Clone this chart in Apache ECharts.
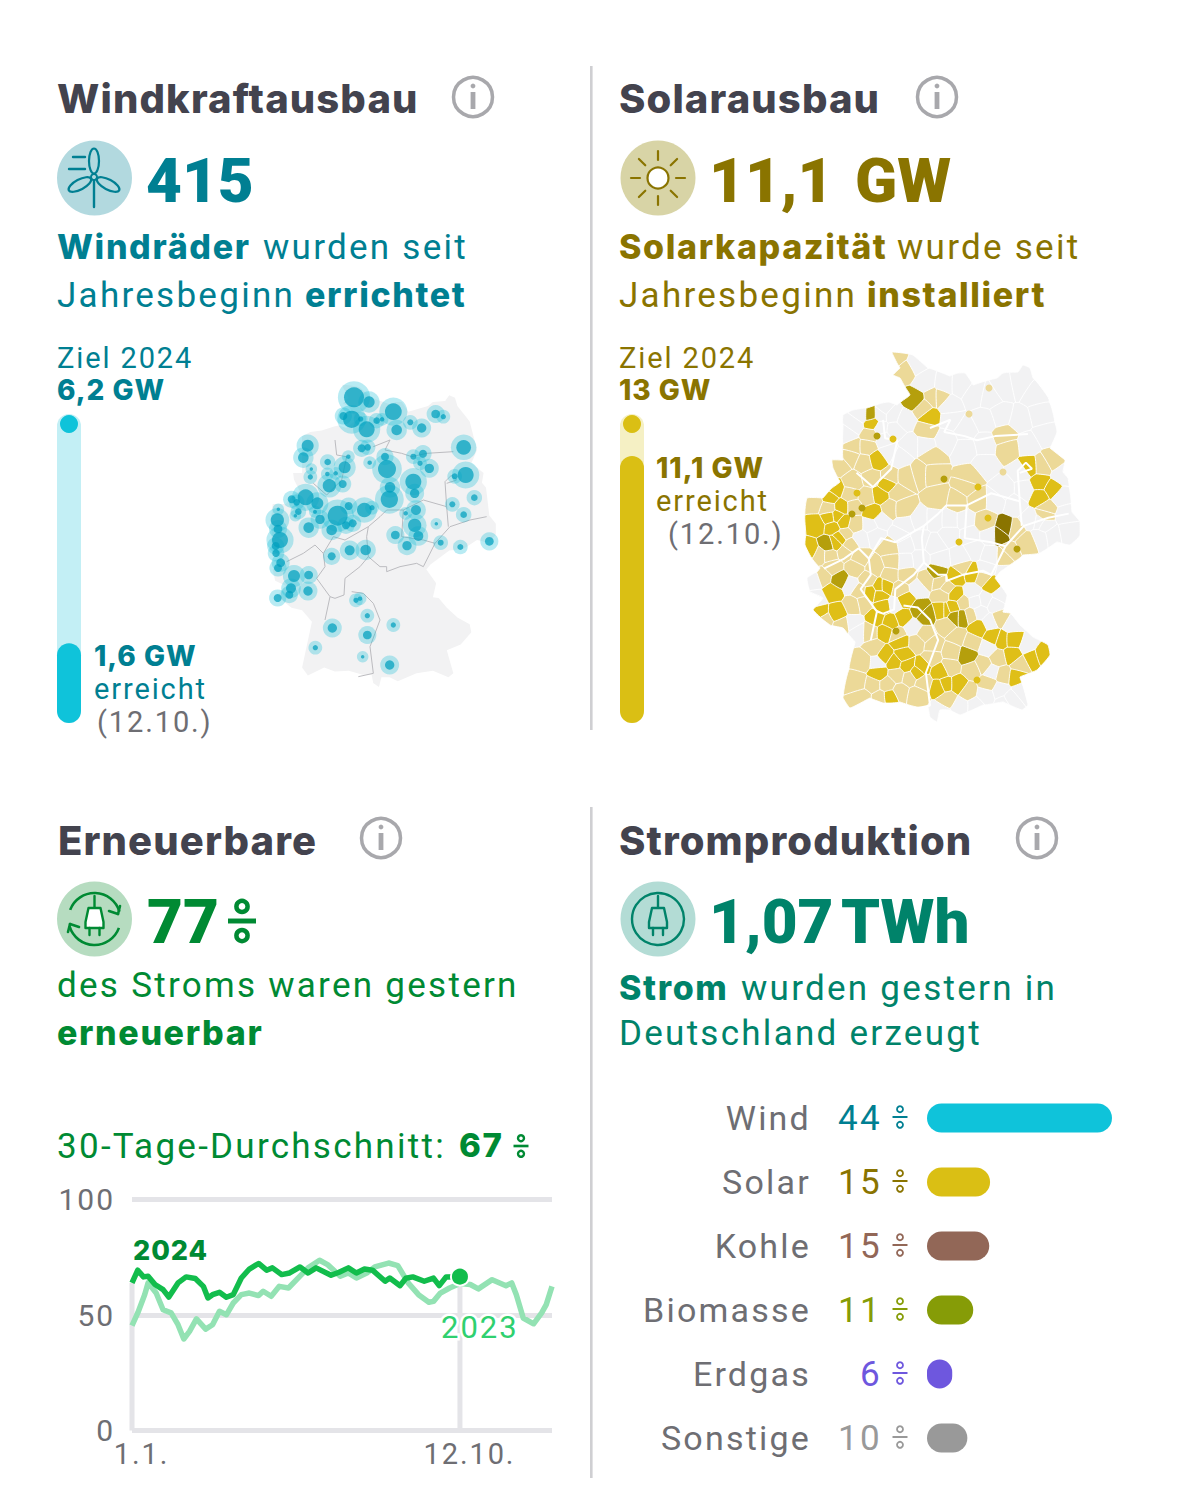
<!DOCTYPE html>
<html lang="de"><head><meta charset="utf-8">
<script src="https://cdn.jsdelivr.net/npm/echarts@6/dist/echarts.min.js"></script>
<style>html,body{margin:0;background:#fff}#c{width:1179px;height:1511px}#c text{letter-spacing:.065em}</style>
</head><body><div id="c"></div>
<script>
// ---------- data ----------
const windGoalGW = 6.2, windReachedGW = 1.6;
const solarGoalGW = 13, solarReachedGW = 11.23;

const mixNames = ['Wind','Solar','Kohle','Biomasse','Erdgas','Sonstige'];
const mixShares = [44,15,15,11,6,10];
const mixBarValues = [44,15,14.8,11,6,9.6];
const mixColors = ['#0fc3da','#dabf14','#926757','#869c07','#6e57de','#999999'];
const mixTextColors = ['#007f92','#8a7400','#926757','#869c07','#6e57de','#999999'];

const days2024 = [0,5,10,14,20,27,32,40,47,55,62,66,70,76,82,88,95,102,110,117,122,130,137,146,153,160,173,180,188,195,202,209,220,224,233,238,244,254,262,267,273,285];
const share2024 = [63.9,69.4,66.5,66.8,63.2,61,57.8,63.9,66.5,65.8,62.4,57.4,58.8,59.8,57.7,58.8,66,69.9,72.3,69.4,70.4,67.5,68.2,70.8,68.2,70.4,67.2,68.5,70.4,68.2,69.9,69.4,64.6,66,62.7,65.9,66.5,64.6,66,62.7,66.5,66.6];
const days2023 = [0,5,11,14,21,27,34,40,45,50,56,64,70,76,82,88,95,102,110,114,121,128,136,146,153,163,170,181,188,195,204,211,223,231,240,249,258,262,268,276,285,294,301,313,325,330,334,340,349,356,360,365];
const share2023 = [45.4,50.9,58.8,63.9,59.5,52.3,50.9,45.8,39.6,42.9,48.3,43.9,45.8,51.6,50.1,55.2,58.8,59.5,58.4,60.3,58.1,62.4,61.7,66.8,70.4,73.7,71.8,66.8,68.2,66,68.2,70.8,72.5,71.4,63.9,58.8,55.5,55.9,59.5,61.7,63.6,63.2,61.3,65.3,62.7,63.9,58.8,48.7,46.2,50.9,54.5,62.4];

// wind parks: map x, map y, strength
const windParks = [[942,172,100],[987,186,32],[1060,215,70],[1187,222,19],[1210,230,7],[935,238,75],[910,228,16],[962,237,7],[980,268,64],[1010,242,11],[1026,238,5],[1070,270,28],[1111,247,9],[1145,264,22],[803,317,36],[790,353,28],[965,325,16],[983,322,11],[1035,350,16],[1041,387,81],[1120,350,9],[1149,341,16],[1140,370,7],[1168,385,22],[1271,322,54],[1277,405,64],[1244,409,9],[863,366,11],[925,350,5],[914,382,36],[989,368,5],[814,387,3],[811,411,7],[862,402,5],[887,400,5],[868,437,44],[908,432,16],[1120,425,64],[1050,442,28],[1124,460,22],[1048,478,75],[797,472,64],[755,478,16],[770,487,11],[832,490,36],[775,515,11],[766,527,3],[825,515,4],[840,538,22],[715,508,3],[712,540,44],[714,567,19],[806,563,28],[893,527,100],[926,498,16],[973,510,54],[996,503,7],[875,570,28],[918,556,16],[938,550,16],[1128,510,25],[1097,520,5],[1124,556,44],[1135,588,25],[1066,585,19],[1101,617,22],[1237,493,9],[1303,473,11],[1271,524,11],[1189,551,3],[1202,608,9],[1261,621,9],[1348,604,19],[720,600,64],[707,618,16],[708,640,14],[875,649,16],[929,631,25],[977,630,28],[722,668,19],[714,684,16],[762,708,36],[806,705,19],[753,745,25],[748,764,16],[713,774,16],[804,753,22],[948,781,7],[960,776,5],[877,864,22],[982,885,19],[982,827,7],[1060,855,7],[826,923,7],[968,950,3],[1049,975,22]];

// state borders, same map frame as the wind parks
const stateBorders = [
 [[740,665],[790,640],[825,615],[850,640],[855,680],[830,715],[870,770],[855,840]],
 [[870,770],[885,775],[912,765],[915,715],[960,680],[985,650],[1020,680],[1040,680],[1040,695],[1080,680],[1130,670],[1150,680],[1185,610],[1230,560],[1290,540],[1340,530]],
 [[935,755],[970,760],[1000,790],[1020,840],[1005,880],[990,920],[1000,1000],[955,1010]],
 [[850,640],[880,590],[915,600],[985,560],[1020,530],[1040,510],[1090,510],[1085,590],[1150,600],[1185,610]],
 [[985,650],[980,590],[985,560]],
 [[1000,320],[1050,300],[1035,330],[1085,340],[1115,350],[1160,340],[1240,335]],
 [[1220,430],[1250,420],[1235,405],[1215,425],[1220,500],[1225,560]],
 [[820,430],[860,465],[905,420],[920,350],[890,345],[885,300]],
 [[1090,510],[1150,480],[1220,500]]
];

// Germany outline in the solar map frame
const germanyOutline = [[892,352],[903,353],[913,355],[928,368],[950,376],[958,373],[965,373],[973,385],[997,378],[1003,373],[1018,372],[1023,365],[1030,368],[1033,378],[1048,397],[1057,432],[1050,448],[1065,460],[1063,472],[1068,478],[1072,512],[1080,522],[1080,535],[1078,538],[1070,545],[1057,542],[1040,553],[1023,555],[1000,572],[995,578],[1007,595],[1003,612],[1010,613],[1020,625],[1033,637],[1048,645],[1050,655],[1037,670],[1020,677],[1028,705],[1022,710],[1003,702],[983,705],[960,715],[950,710],[940,710],[937,722],[930,717],[928,707],[917,707],[900,702],[883,703],[870,698],[850,708],[843,698],[855,642],[843,628],[830,625],[820,617],[813,610],[823,598],[810,592],[807,578],[817,572],[820,568],[813,560],[805,545],[806,535],[805,515],[807,498],[823,498],[832,488],[840,482],[833,468],[832,460],[843,460],[843,425],[843,415],[853,410],[867,408],[882,403],[888,402],[897,405],[910,395],[900,378],[893,375],[900,368],[893,355]];

// solar build-out by district, map centres grouped by class
const distGray = [[915,365],[925,382],[945,385],[960,385],[975,395],[990,398],[1005,388],[1020,385],[1035,395],[1040,415],[1020,420],[1000,415],[985,420],[965,430],[950,420],[948,405],[1045,435],[1028,445],[985,445],[965,450],[945,440],[925,445],[855,425],[848,435],[862,415],[880,415],[885,408],[880,428],[884,440],[893,415],[895,430],[905,420],[910,445],[900,458],[888,452],[985,465],[1022,472],[1025,490],[1003,490],[1062,475],[1060,497],[1065,515],[1040,522],[1068,532],[1052,535],[1030,520],[1015,505],[995,500],[905,525],[920,520],[935,520],[950,520],[965,520],[920,540],[905,545],[875,535],[880,520],[935,545],[950,535],[970,535],[975,550],[960,558],[940,560],[920,560],[905,562],[990,555],[1000,595],[985,600],[980,612],[995,605],[1012,625],[1028,645],[1022,690],[1000,690],[1005,703],[985,695],[975,705],[960,705],[940,712],[1010,700],[990,622],[972,592],[975,602],[815,580],[817,600],[850,585],[853,623],[858,632],[877,663],[895,605],[918,588],[913,627],[988,648],[992,672],[1040,537],[1045,525],[870,525],[860,538],[990,535],[1005,575],[985,570],[900,535]];
const distTan = [[897,358],[906,370],[933,398],[923,408],[927,430],[940,398],[870,435],[853,447],[850,457],[868,447],[865,463],[840,465],[853,482],[872,478],[890,477],[850,495],[867,497],[897,493],[890,508],[903,508],[907,477],[815,503],[828,508],[853,507],[855,525],[845,534],[932,457],[920,473],[933,473],[938,498],[1005,437],[1008,448],[1052,460],[1042,466],[1047,508],[1045,515],[970,478],[967,487],[958,502],[977,500],[985,522],[1015,530],[1027,542],[1008,552],[820,555],[830,555],[845,552],[850,545],[890,548],[892,562],[833,567],[860,558],[855,568],[823,577],[875,568],[868,580],[860,592],[863,603],[853,605],[825,620],[842,625],[870,632],[890,575],[907,575],[900,590],[927,580],[940,582],[897,635],[925,635],[917,643],[933,645],[943,595],[875,648],[863,662],[858,682],[873,685],[897,675],[910,678],[887,685],[923,682],[900,692],[917,695],[863,698],[880,698],[932,658],[983,577],[963,568],[947,588],[963,603],[970,615],[1000,618],[947,625],[958,637],[972,642],[952,652],[998,658],[1020,665],[1003,675],[983,665],[972,670],[950,667],[988,683],[968,692],[948,698],[1005,555]];
const distYellow = [[872,423],[877,460],[835,490],[830,497],[880,495],[887,484],[842,507],[873,513],[817,525],[830,518],[837,517],[843,522],[833,527],[930,417],[1029,467],[1040,483],[1052,490],[1040,497],[810,550],[840,538],[835,543],[833,592],[820,612],[837,613],[880,587],[870,593],[885,587],[880,595],[905,600],[883,607],[877,618],[903,617],[890,622],[885,632],[943,610],[900,642],[885,655],[895,662],[907,665],[903,655],[922,667],[917,673],[878,673],[890,697],[940,672],[940,687],[956,577],[972,573],[992,585],[955,595],[945,610],[953,607],[978,628],[993,637],[1002,640],[1013,640],[1012,655],[1033,658],[1042,655],[1017,677],[958,685],[945,685]];
const distOlive = [[915,400],[870,415],[828,545],[840,580],[920,610],[925,615],[937,572],[955,617],[962,617],[967,655]];
const distDark = [[1005,528],[1000,535]];
// single small cities, map x, map y
const cityTan = [[989,388],[969,414],[1003,472],[952,473]];
const cityYellow = [[857,493],[893,439],[978,487],[988,518],[959,542],[977,680]];
const cityOlive = [[877,436],[944,479],[862,508],[852,514],[1017,549],[896,631]];

// ---------- helpers ----------
const C = {title:'#43434e',gray:'#6e6e73',info:'#a8a8ac',wind:'#007f92',solar:'#8a7400',green:'#008a33',strom:'#00836a'};
const FF = 'Roboto', FB = 'Inter';
function T(text,x,y,size,fill,weight,align){const f=weight===800?FB:FF;return {type:'text',x,y:weight===800?y-1:y,z:50,style:{text,fill,font:`${weight||400} ${size}px ${f}`,textAlign:align||'left',textVerticalAlign:'middle'}};}
function pct(x,y,w,color,lw){const r=w*0.2;const gap=w*0.52;return {type:'group',z:50,children:[
 {type:'circle',shape:{cx:x,cy:y-gap,r},style:{fill:'none',stroke:color,lineWidth:lw}},
 {type:'circle',shape:{cx:x,cy:y+gap,r},style:{fill:'none',stroke:color,lineWidth:lw}},
 {type:'rect',shape:{x:x-w/2,y:y-lw*0.55,width:w,height:lw*1.1},style:{fill:color}}]};}
function info(x,y){return {type:'group',z:50,children:[
 {type:'circle',shape:{cx:x,cy:y,r:19.5},style:{fill:'none',stroke:C.info,lineWidth:3.5}},
 {type:'circle',shape:{cx:x,cy:y-11,r:2.4},style:{fill:C.info}},
 {type:'rect',shape:{x:x-2.4,y:y-5,width:4.8,height:17},style:{fill:C.info}}]};}
const L=(x1,y1,x2,y2,c,w)=>({type:'line',shape:{x1,y1,x2,y2},style:{stroke:c,lineWidth:w||2.4,lineCap:'round'},z:50});
function plug(cx,cy,c,fill){return [
 L(cx,cy-23,cx,cy-11,c),
 {type:'polygon',z:50,shape:{points:[[cx-6,cy-11],[cx+6,cy-11],[cx+9,cy+3],[cx+9,cy+9],[cx-9,cy+9],[cx-9,cy+3]]},style:{fill,stroke:c,lineWidth:2.4,lineJoin:'round'}},
 L(cx-5,cy+9,cx-5,cy+16,c),L(cx+5,cy+9,cx+5,cy+16,c)];}
function blade(hx,hy,deg,c){return {type:'group',x:hx,y:hy,rotation:deg*Math.PI/180,z:50,children:[
 {type:'ellipse',z:50,shape:{cx:0,cy:-16,rx:5,ry:12.5},style:{fill:'none',stroke:c,lineWidth:2.2}}]};}

const gfx = [];
gfx.push({type:'rect',shape:{x:590,y:66,width:2.6,height:664},style:{fill:'#cfcfd2'}},{type:'rect',shape:{x:590,y:807,width:2.6,height:671},style:{fill:'#cfcfd2'}});
gfx.push(T('Windkraftausbau',57,99,40,C.title,800),info(473,97));
gfx.push(T('Solarausbau',619,99,40,C.title,800),info(937,97));
gfx.push(T('Erneuerbare',58,841,40,C.title,800),info(381,838));
gfx.push(T('Stromproduktion',619,841,40,C.title,800),info(1037,838));
gfx.push({type:'circle',shape:{cx:94.5,cy:178,r:37.5},style:{fill:'#b2d9df'}},{type:'circle',shape:{cx:658,cy:178,r:37.5},style:{fill:'#d8d4a6'}},{type:'circle',shape:{cx:94.5,cy:919,r:37.5},style:{fill:'#b6dcc0'}},{type:'circle',shape:{cx:658,cy:919,r:37.5},style:{fill:'#b3dcd5'}});
gfx.push(L(94,181,94,207,C.wind),L(73,157,85,157,C.wind),L(69,169,85,169,C.wind),blade(94,177,0,C.wind),blade(94,177,118,C.wind),blade(94,177,242,C.wind),{type:'circle',z:51,shape:{cx:94,cy:177,r:3},style:{fill:'#b2d9df',stroke:C.wind,lineWidth:2}});
gfx.push({type:'circle',z:50,shape:{cx:658,cy:178,r:10.5},style:{fill:'#fff',stroke:C.solar,lineWidth:2.2}});
[0,45,90,135,180,225,270,315].forEach(a=>{const s=Math.sin(a*Math.PI/180),k=Math.cos(a*Math.PI/180);gfx.push(L(658+k*18,178+s*18,658+k*27,178+s*27,C.solar,2.2));});
gfx.push(...plug(94.5,919,C.green,'#fff'));
gfx.push({type:'arc',z:50,shape:{cx:94.5,cy:919,r:26,startAngle:3.5,endAngle:6.0,clockwise:true},style:{stroke:C.green,fill:'none',lineWidth:2.6}},{type:'arc',z:50,shape:{cx:94.5,cy:919,r:26,startAngle:0.35,endAngle:2.85,clockwise:true},style:{stroke:C.green,fill:'none',lineWidth:2.6}});
gfx.push(L(120,906,118,914,C.green,2.6),L(118,914,109,911,C.green,2.6),L(68,932,70,924,C.green,2.6),L(70,924,79,927,C.green,2.6));
gfx.push(...plug(658,919,C.strom,'#b3dcd5'));
gfx.push({type:'circle',z:49,shape:{cx:658,cy:919,r:26},style:{fill:'none',stroke:C.strom,lineWidth:2.4}});
gfx.push(T('415',146,180,62,C.wind,900),T('11,1',709,180,62,C.solar,900),T('GW',855,180,62,C.solar,900));
gfx.push(T('77',147,921,62,C.green,900),pct(242,921,28,C.green,4.5));
gfx.push(T('1,07',709,921,62,C.strom,900),T('TWh',841,921,62,C.strom,900));
gfx.push(T('Windräder',57,247,34,C.wind,800),T('wurden seit',263,247,35,C.wind),T('Jahresbeginn',57,295,35,C.wind),T('errichtet',305,295,34,C.wind,800));
gfx.push(T('Solarkapazität',619,247,34,C.solar,800),T('wurde seit',897,247,35,C.solar),T('Jahresbeginn',619,295,35,C.solar),T('installiert',867,295,34,C.solar,800));
gfx.push(T('des Stroms waren gestern',57,985,35,C.green),T('erneuerbar',57,1033,34,C.green,800));
gfx.push(T('Strom',619,988,34,C.strom,800),T('wurden gestern in',741,988,35,C.strom),T('Deutschland erzeugt',619,1033,35,C.strom));
gfx.push(T('Ziel 2024',57,358,29,C.wind),T('6,2 GW',57,391,28,C.wind,800),T('1,6 GW',94,657,28,C.wind,800),T('erreicht',94,689,29,C.wind),T('(12.10.)',97,722,29,C.gray));
gfx.push(T('Ziel 2024',619,358,29,C.solar),T('13 GW',619,391,28,C.solar,800),T('11,1 GW',656,469,28,C.solar,800),T('erreicht',656,501,29,C.solar),T('(12.10.)',668,534,29,C.gray));
gfx.push(T('30-Tage-Durchschnitt:',57,1146,35,C.green),T('67',459,1146,33,C.green,800),pct(521,1146,15,C.green,2.4));
gfx.push(T('2024',133,1251,27,C.green,800));
gfx.push({type:'text',x:441,y:1327,z:50,style:{text:'2023',fill:'#2fd06f',font:`400 31px ${FF}`,textVerticalAlign:'middle',stroke:'#fff',lineWidth:5,paintOrder:'stroke'}});
const rowY=[1118,1182,1246,1310,1374,1438];
rowY.forEach((y,i)=>gfx.push(pct(900,y-1,15,mixTextColors[i],1.8)));

// ---------- solar map geometry ----------
const allDistricts=[].concat(distGray.map(p=>[p[0],p[1],0]),distTan.map(p=>[p[0],p[1],1]),distYellow.map(p=>[p[0],p[1],2]),distOlive.map(p=>[p[0],p[1],3]),distDark.map(p=>[p[0],p[1],4]));
const classColors=['#f2f2f3','#ecd998','#dfbf17','#b59f0c','#8a7400'];
function clip(poly,a,b){
 const mx=(a[0]+b[0])/2,my=(a[1]+b[1])/2,nx=b[0]-a[0],ny=b[1]-a[1];
 const side=p=>(p[0]-mx)*nx+(p[1]-my)*ny;const out=[];
 for(let i=0;i<poly.length;i++){const p=poly[i],q=poly[(i+1)%poly.length],sp=side(p),sq=side(q);
  if(sp<=0)out.push(p);
  if((sp<0&&sq>0)||(sp>0&&sq<0)){const t=sp/(sp-sq);out.push([p[0]+(q[0]-p[0])*t,p[1]+(q[1]-p[1])*t]);}}
 return out;}
const cells=allDistricts.map(s=>{let c=germanyOutline;for(const o of allDistricts){if(o===s||(o[0]===s[0]&&o[1]===s[1]))continue;if(!c.length)break;c=clip(c,s,o);}return c;});

// ---------- axes ----------
const hiddenX=(gi,min,max)=>({gridIndex:gi,type:'value',min,max,show:false});
const hiddenY=(gi,min,max)=>({gridIndex:gi,type:'value',min,max,inverse:true,show:false});
const grids=[
 {left:57,top:414,width:24,height:309},
 {left:620,top:414,width:24,height:309},
 {left:267,top:379,width:237,height:310.5},
 {left:40,top:340,width:480,height:400},
 {left:800,top:345,width:290,height:380},
 {left:522,top:297.4,width:587.5,height:489.6},
 {left:132,top:1199.5,width:420,height:231},
 {left:927,top:1086,width:185,height:384}
];
const catX=gi=>({gridIndex:gi,type:'category',data:[''],show:false});
const xAxes=[catX(0),catX(1),hiddenX(2,800,1090),hiddenX(3,0,1440),hiddenX(4,800,1090),hiddenX(5,0,1440),
 {gridIndex:6,type:'value',min:0,max:365,axisLine:{show:false},axisTick:{show:false},splitLine:{show:false},
  axisLabel:{customValues:[0,285],formatter:v=>v===0?'1.1.':'12.10.',color:C.gray,fontFamily:FF,fontSize:29,margin:9,padding:[0,0,0,19]}},
 {gridIndex:7,type:'value',min:0,max:44,show:false}];
const yAxes=[
 {gridIndex:0,type:'value',min:0,max:windGoalGW,show:false},
 {gridIndex:1,type:'value',min:0,max:solarGoalGW,show:false},
 hiddenY(2,345,725),hiddenY(3,0,1200),hiddenY(4,345,725),hiddenY(5,0,1200),
 {gridIndex:6,type:'value',min:0,max:100,interval:50,axisLine:{show:false},axisTick:{show:false},
  splitLine:{lineStyle:{color:'#e4e4e8',width:5}},axisLabel:{color:C.gray,fontFamily:FF,fontSize:30,margin:17}},
 {gridIndex:7,type:'category',inverse:true,data:mixNames,axisLine:{show:false},axisTick:{show:false},
  axisLabel:{color:C.gray,fontFamily:FF,fontSize:34,margin:116,align:'right'}},
 {gridIndex:7,type:'category',position:'left',inverse:true,data:mixShares.map(String),axisLine:{show:false},axisTick:{show:false},
  axisLabel:{color:(v,i)=>mixTextColors[i],fontFamily:FF,fontSize:35,margin:45,align:'right'}}
];
const on=(i,yi)=>({xAxisIndex:i,yAxisIndex:yi===undefined?i:yi});

// ---------- series ----------
const series=[];
function progress(i,goal,reached,track,fill){
 series.push({type:'bar',...on(i),data:[goal],barWidth:24,barGap:'-100%',silent:true,itemStyle:{color:track,borderRadius:12},z:2});
 series.push({type:'bar',...on(i),data:[reached],barWidth:24,barGap:'-100%',silent:true,itemStyle:{color:fill,borderRadius:12},z:3});
 series.push({type:'scatter',...on(i),data:[[0,goal]],symbolSize:18,symbolOffset:[0,10],itemStyle:{color:fill,opacity:1},silent:true,z:4});
}
progress(0,windGoalGW,windReachedGW,'#c3eff5','#0fc3da');
progress(1,solarGoalGW,solarReachedGW,'#f5f0c4','#dabf14');

series.push({type:'custom',...on(2),silent:true,z:1,data:[[0,0]],renderItem:(p,api)=>({type:'polygon',shape:{points:germanyOutline.map(q=>api.coord(q))},style:{fill:'#f2f2f3'}})});
stateBorders.forEach(b=>series.push({type:'line',...on(3),data:b,showSymbol:false,silent:true,z:2,lineStyle:{color:'#bcbcc0',width:1}}));
series.push({type:'scatter',...on(3),data:windParks,silent:true,z:3,symbolSize:d=>2*(Math.sqrt(d[2])*1.25+3.6),itemStyle:{color:'rgba(20,190,215,.3)',opacity:1}});
series.push({type:'scatter',...on(3),data:windParks,silent:true,z:4,symbolSize:d=>2*Math.sqrt(d[2]),itemStyle:{color:'rgba(0,160,190,.72)',opacity:1}});

series.push({type:'custom',...on(4),silent:true,z:0,data:[[0,0]],renderItem:(p,api)=>({type:'polygon',shape:{points:germanyOutline.map(q=>api.coord(q))},style:{fill:'#f2f2f3'}})});
series.push({type:'custom',...on(4),silent:true,z:1,data:allDistricts,encode:{x:0,y:1},renderItem:(p,api)=>{const c=cells[p.dataIndex];if(!c||c.length<3)return null;
 return {type:'polygon',shape:{points:c.map(q=>api.coord(q)),smooth:0.12},style:{fill:classColors[allDistricts[p.dataIndex][2]],stroke:'#fff',lineWidth:0.9}};}});
stateBorders.forEach(b=>series.push({type:'line',...on(5),data:b,showSymbol:false,silent:true,z:2,lineStyle:{color:'#fff',width:2}}));
[[cityTan,classColors[1]],[cityYellow,classColors[2]],[cityOlive,classColors[3]]].forEach(([d,c])=>series.push({type:'scatter',...on(4),data:d,symbolSize:7,silent:true,z:3,itemStyle:{color:c,opacity:1}}));

const pairs=(a,b)=>a.map((x,i)=>[x,b[i]]);
const dropLines=[[[0,0],[0,share2023[3]]],[[days2024[days2024.length-1],0],[days2024[days2024.length-1],share2024[share2024.length-1]]]];
dropLines.forEach(d=>series.push({type:'line',...on(6),data:d,showSymbol:false,silent:true,z:1,clip:false,lineStyle:{color:'#e4e4e8',width:5}}));
series.push({type:'line',...on(6),data:pairs(days2023,share2023),showSymbol:false,silent:true,z:2,clip:false,lineStyle:{color:'#93e2b3',width:5.5,join:'round'}});
series.push({type:'line',...on(6),data:pairs(days2024,share2024),showSymbol:false,silent:true,z:3,clip:false,lineStyle:{color:'#12bd4c',width:5.5,join:'round'}});
series.push({type:'scatter',...on(6),data:[[days2024[days2024.length-1],share2024[share2024.length-1]]],symbolSize:18,silent:true,z:4,itemStyle:{color:'#12bd4c',borderColor:'#fff',borderWidth:2,opacity:1}});

series.push({type:'bar',xAxisIndex:7,yAxisIndex:7,data:mixBarValues.map((v,i)=>({value:v,itemStyle:{color:mixColors[i]}})),barWidth:29,silent:true,itemStyle:{borderRadius:14.5}});

const chart=echarts.init(document.getElementById('c'),null,{renderer:'svg',width:1179,height:1511});
chart.setOption({animation:false,backgroundColor:'#fff',tooltip:{show:false},grid:grids,xAxis:xAxes,yAxis:yAxes,series,graphic:{elements:gfx}});
function spacing(){document.querySelectorAll('#c text').forEach(t=>{const s=getComputedStyle(t),w=parseInt(s.fontWeight)||400,f=parseFloat(s.fontSize);
 if(w>=900)t.style.letterSpacing='0';else if(w>=600)t.style.letterSpacing=f>=38?'.028em':f>=33?'.048em':'.035em';});}
spacing();chart.on('finished',spacing);
</script></body></html>
